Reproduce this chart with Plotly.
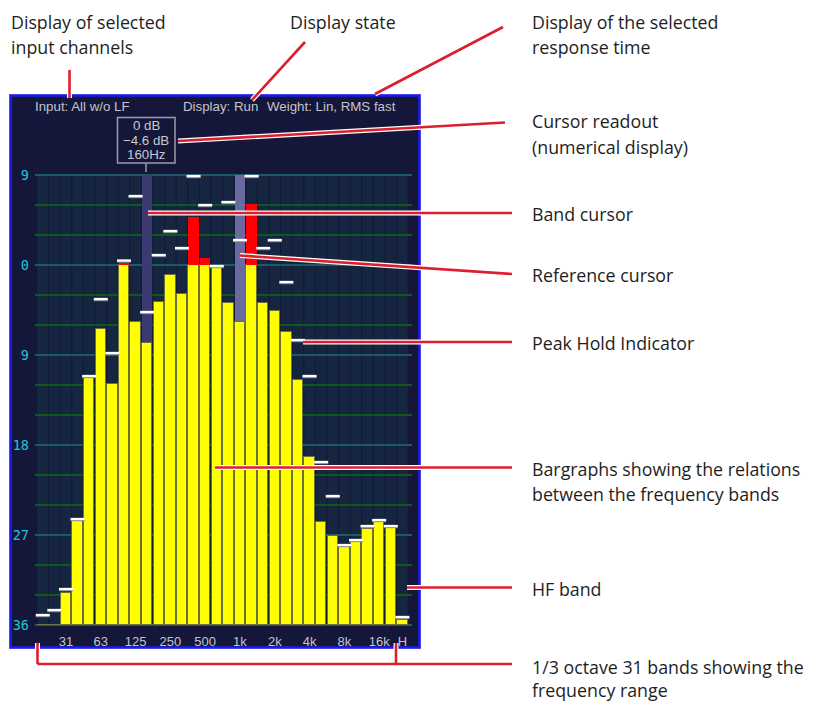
import plotly.graph_objects as go

# ---------------- data ----------------
bands = ["20", "25", "31.5", "40", "50", "63", "80", "100", "125", "160", "200", "250",
         "315", "400", "500", "630", "800", "1k", "1.25k", "1.6k", "2k", "2.5k", "3.15k",
         "4k", "5k", "6.3k", "8k", "10k", "12.5k", "16k", "20k", "H"]
levels = [-36, -36, -32.8, -25.6, -11.3, -6.4, -11.9, 0.15, -5.7, -7.8, -3.7, -1.0,
          -2.9, 4.8, 0.7, -0.2, -3.8, -5.7, 6.1, -3.8, -4.6, -6.7, -11.5,
          -19.2, -25.7, -27.1, -28.2, -27.7, -26.4, -25.7, -26.3, -35.5]
peaks = [-35.0, -34.5, -32.4, -25.4, -11.1, -3.4, -8.8, 0.45, 6.9, -4.7, 1.0, 3.4,
         1.7, 8.9, 6.0, -0.1, 6.3, 2.5, 8.9, 1.7, 2.5, -1.7, -7.5,
         -11.1, -19.7, -23.1, -28.0, -27.5, -26.1, -25.5, -26.1, -35.2]
x_tick_bands = ["31.5", "63", "125", "250", "500", "1k", "2k", "4k", "8k", "16k", "H"]
x_tick_text = ["31", "63", "125", "250", "500", "1k", "2k", "4k", "8k", "16k", "H"]
y_tick_vals = [9, 0, -9, -18, -27, -36]
y_tick_text = ["9", "0", "9", "18", "27", "36"]
db_floor = -36
db_top = 9
band_cursor = "160"
reference_cursor = "1k"
readout_lines = ["0 dB", "\u22124.6 dB", "160Hz"]
header_texts = ["Input: All w/o LF", "Display: Run", "Weight: Lin, RMS fast"]

W, H = 817, 702


def px(x):
    return x / W


def py(y):
    return 1 - y / H


idx = list(range(len(bands)))
pos = {b: i for i, b in enumerate(bands)}

fig = go.Figure()

# cursor columns (drawn above grid, below bars)
fig.add_trace(go.Bar(
    x=[pos[band_cursor], pos[reference_cursor]],
    y=[db_top - db_floor] * 2, base=db_floor, width=0.86,
    marker=dict(color=["#3b3a72", "#6a69a0"], line=dict(width=0)),
    hoverinfo="skip"))

# yellow part
fig.add_trace(go.Bar(
    x=idx, y=[min(v, 0) - db_floor for v in levels], base=db_floor, width=0.9,
    marker=dict(color="#ffff00", line=dict(color="#6e6e3a", width=1)),
    hoverinfo="skip"))

# red part above 0 dB
red_x = [i for i, v in zip(idx, levels) if v > 0]
red_y = [v for v in levels if v > 0]
fig.add_trace(go.Bar(
    x=red_x, y=red_y, base=0, width=0.9,
    marker=dict(color="#ff0000", line=dict(width=0)),
    hoverinfo="skip"))

# peak hold indicators
fig.add_trace(go.Scatter(
    x=idx, y=[p - 0.12 for p in peaks], mode="markers",
    marker=dict(symbol="line-ew", size=10, line=dict(color="#8a8a98", width=2)),
    hoverinfo="skip"))
fig.add_trace(go.Scatter(
    x=idx, y=peaks, mode="markers",
    marker=dict(symbol="line-ew", size=10, line=dict(color="#ffffff", width=2.3)),
    hoverinfo="skip"))

shapes = []
# panel
shapes.append(dict(type="rect", xref="paper", yref="paper", layer="below",
                   x0=px(9), x1=px(421), y0=py(649), y1=py(94),
                   fillcolor="#b8b8e0", line=dict(width=0)))
shapes.append(dict(type="rect", xref="paper", yref="paper", layer="below",
                   x0=px(10.5), x1=px(419.5), y0=py(647.5), y1=py(95.5),
                   fillcolor="#14173a", line=dict(color="#1c1cf0", width=2.5)))
# band columns background
for i in idx:
    shapes.append(dict(type="rect", xref="x", yref="y", layer="below",
                       x0=i - 0.46, x1=i + 0.46, y0=db_floor, y1=db_top,
                       fillcolor="#162540", line=dict(width=0)))

# cursor readout box
bc = pos[band_cursor]
shapes.append(dict(type="rect", xref="paper", yref="paper",
                   x0=px(117.5), x1=px(175), y0=py(163), y1=py(117.5),
                   line=dict(color="#9c9ca4", width=1.5)))
shapes.append(dict(type="line", xref="x", yref="paper",
                   x0=bc - 0.1, x1=bc - 0.1, y0=py(163), y1=py(172),
                   line=dict(color="#9c9ca4", width=1.5)))

# red callout lines (white halo + red)
callouts = [
    [(69.5, 70), (69.5, 98)],
    [(305, 42), (252, 100)],
    [(503, 27), (375, 94)],
    [(505, 122.5), (178, 141)],
    [(148, 213), (512, 213)],
    [(240, 255.5), (512, 274)],
    [(303, 342), (512, 342)],
    [(215, 467.5), (512, 467.5)],
    [(407, 587.5), (512, 587.5)],
    [(37.5, 643), (37.5, 664)],
    [(37.5, 664), (512, 664)],
    [(396, 643), (396, 664)],
]
for color, width in (("#ffffff", 5), ("#dc1f2e", 2.6)):
    for (xa, ya), (xb, yb) in callouts:
        shapes.append(dict(type="line", xref="paper", yref="paper",
                           x0=px(xa), y0=py(ya), x1=px(xb), y1=py(yb),
                           line=dict(color=color, width=width)))

annotations = []
# header in panel
for t, x0 in zip(header_texts, [33, 181, 265]):
    annotations.append(dict(text=t, x=px(x0), y=py(107), xref="paper", yref="paper",
                            xanchor="left", yanchor="middle", showarrow=False,
                            font=dict(family="Liberation Sans", size=13.3, color="#c4c4cc")))
# readout text
for t, yy in zip(readout_lines, [125.5, 140.5, 155]):
    annotations.append(dict(text=t, x=px(146), y=py(yy), xref="paper", yref="paper",
                            xanchor="center", yanchor="middle", showarrow=False,
                            font=dict(family="Liberation Sans", size=13.3, color="#c8c8cc")))

# explanatory labels
labels = [
    ("Display of selected", 9, 22), ("input channels", 9, 47),
    ("Display state", 288, 22),
    ("Display of the selected", 530, 22), ("response time", 530, 47),
    ("Cursor readout", 530, 121), ("(numerical display)", 530, 147),
    ("Band cursor", 530, 214),
    ("Reference cursor", 530, 275),
    ("Peak Hold Indicator", 530, 343),
    ("Bargraphs showing the relations", 530, 469),
    ("between the frequency bands", 530, 494),
    ("HF band", 530, 589),
    ("1/3 octave 31 bands showing the", 530, 667),
    ("frequency range", 530, 690),
]
for t, x0, y0 in labels:
    annotations.append(dict(text=t, x=px(x0), y=py(y0), xref="paper", yref="paper",
                            xanchor="left", yanchor="middle", showarrow=False,
                            font=dict(family="Open Sans", size=17.8, color="#1e1e1e")))

pad = 0.3
fig.update_layout(
    width=W, height=H, margin=dict(l=0, r=0, t=0, b=0, autoexpand=False),
    paper_bgcolor="#ffffff", plot_bgcolor="#11182f",
    barmode="overlay", bargap=0, showlegend=False,
    shapes=shapes, annotations=annotations,
    xaxis=dict(domain=[px(35), px(412)], range=[-0.67, 31.83],
               tickmode="array", tickvals=[pos[b] for b in x_tick_bands],
               ticktext=x_tick_text, showgrid=False, zeroline=False, showline=False,
               ticks="", ticklabelstandoff=4, automargin=False,
               tickfont=dict(family="Liberation Sans", size=13, color="#c4c4cc")),
    yaxis=dict(domain=[py(625 + pad * 10), py(175 - pad * 10)],
               range=[db_floor - pad, db_top + pad], automargin=False,
               tickmode="array", tickvals=y_tick_vals, ticktext=y_tick_text,
               showgrid=True, gridcolor="#1c5a64", gridwidth=1.6,
               zeroline=False, showline=False, ticks="", ticklabelstandoff=5,
               tickfont=dict(family="DejaVu Sans Mono", size=13.5, color="#1ec8d8"),
               minor=dict(tickmode="array",
                          tickvals=list(range(db_floor, db_top + 1, 3)),
                          showgrid=True, gridcolor="#0d5a1c", gridwidth=1.6)),
)

fig.write_html("out.html", config={"displayModeBar": False},
               post_script="document.body.style.margin='0px';document.body.style.padding='0px';")
